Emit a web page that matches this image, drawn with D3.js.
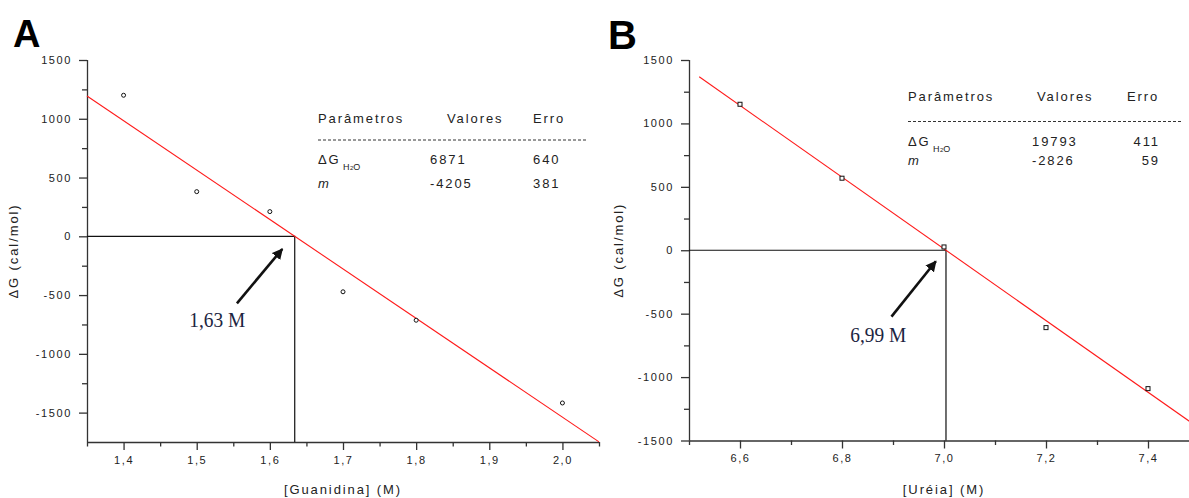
<!DOCTYPE html>
<html>
<head>
<meta charset="utf-8">
<script src="https://cdn.jsdelivr.net/npm/d3@7"></script>
<style>
  html, body { margin: 0; padding: 0; background: #fff; }
  svg { display: block; }
  .sans { font-family: Arial, "Liberation Sans", sans-serif; }
</style>
</head>
<body>
<svg id="chart" width="1189" height="498"></svg>
<script>
// ---- Panel A: guanidine denaturation ----
const guaConc = [1.4, 1.5, 1.6, 1.7, 1.8, 2.0];
const guaDG = [1200, 380, 210, -472, -714, -1418];
const guaFit = [6871, -4205];          // ΔG(H2O), m
const guaFitErr = [640, 381];
const guaFitRange = [1.35, 2.05];
const guaXDomain = [1.35, 2.05];
const guaYDomain = [-1750, 1500];
const guaXTicks = [1.4, 1.5, 1.6, 1.7, 1.8, 1.9, 2.0];
const guaXMinor = [1.35, 1.45, 1.55, 1.65, 1.75, 1.85, 1.95, 2.05];
const guaYTicks = [-1500, -1000, -500, 0, 500, 1000, 1500];
const guaYMinor = [-1250, -750, -250, 250, 750, 1250];
const guaArrow = [[1.555, -570], [1.617, -108]];
const guaMidLabel = ["1,63 M", 1.528, -773];

// ---- Panel B: urea denaturation ----
const ureaConc = [6.6, 6.8, 7.0, 7.2, 7.4];
const ureaDG = [1151, 568, 26, -610, -1091];
const ureaFit = [19793, -2826];
const ureaFitErr = [411, 59];
const ureaFitRange = [6.52, 7.5];
const ureaXDomain = [6.5, 7.5];
const ureaYDomain = [-1500, 1500];
const ureaXTicks = [6.6, 6.8, 7.0, 7.2, 7.4];
const ureaXMinor = [6.5, 6.7, 6.9, 7.1, 7.3, 7.5];
const ureaYTicks = [-1500, -1000, -500, 0, 500, 1000, 1500];
const ureaYMinor = [-1250, -750, -250, 250, 750, 1250];
const ureaArrow = [[6.897, -523], [6.984, -87]];
const ureaMidLabel = ["6,99 M", 6.871, -727];

const tableHeader = ["Parâmetros", "Valores", "Erro"];

const svg = d3.select("#chart");
const axisColor = "#333";

svg.append("defs").append("marker")
  .attr("id", "arrowhead")
  .attr("viewBox", "0 0 10 10")
  .attr("refX", 9).attr("refY", 5)
  .attr("markerWidth", 4.2).attr("markerHeight", 4.2)
  .attr("markerUnits", "strokeWidth")
  .attr("orient", "auto")
  .append("path").attr("d", "M0,0 L10,5 L0,10 Z").attr("fill", "#111");

function drawPanel(cfg) {
  const x = d3.scaleLinear().domain(cfg.xDomain).range(cfg.xRange);
  const y = d3.scaleLinear().domain(cfg.yDomain).range(cfg.yRange);
  const g = svg.append("g").attr("class", "sans");

  // panel letter
  g.append("text").attr("x", cfg.letterPos[0]).attr("y", cfg.letterPos[1])
    .attr("font-size", cfg.letterSize).attr("font-weight", "bold")
    .attr("fill", "#000").text(cfg.letter);

  // y axis
  const yAxis = g.append("g").attr("transform", `translate(${cfg.xRange[0]},0)`)
    .call(d3.axisLeft(y).tickValues(cfg.yTicks).tickSize(8).tickPadding(7)
      .tickFormat(d => String(d)));
  yAxis.append("g").call(d3.axisLeft(y).tickValues(cfg.yMinor).tickSize(5).tickFormat(""))
    .select(".domain").remove();

  // x axis
  const xAxis = g.append("g").attr("transform", `translate(0,${cfg.yRange[0]})`)
    .call(d3.axisBottom(x).tickValues(cfg.xTicks).tickSize(8).tickPadding(6)
      .tickFormat(d => d3.format(".1f")(d).replace(".", ",")));
  xAxis.append("g").call(d3.axisBottom(x).tickValues(cfg.xMinor).tickSize(4.5).tickFormat(""))
    .select(".domain").remove();

  [yAxis, xAxis].forEach(a => {
    a.selectAll(".domain").attr("stroke", axisColor).attr("stroke-width", 1.3)
      .attr("d", function () {
        return a === yAxis
          ? `M0.5,${cfg.yRange[0]}V${cfg.yRange[1]}`
          : `M${cfg.xRange[0]},0.5H${cfg.xRange[1]}`;
      });
    a.selectAll(".tick line").attr("stroke", axisColor).attr("stroke-width", 1.3);
    a.selectAll(".tick text").attr("fill", "#222")
      .attr("font-family", "Arial, 'Liberation Sans', sans-serif")
      .attr("font-size", 11).attr("letter-spacing", 1.6);
  });

  // axis titles
  g.append("text")
    .attr("x", (cfg.xRange[0] + cfg.xRange[1]) / 2).attr("y", cfg.xTitleY)
    .attr("text-anchor", "middle").attr("font-size", 13).attr("letter-spacing", 1.9)
    .attr("fill", "#222").text(cfg.xTitle);
  g.append("text")
    .attr("transform", `translate(${cfg.yTitleX},${(cfg.yRange[0] + cfg.yRange[1]) / 2}) rotate(-90)`)
    .attr("text-anchor", "middle").attr("font-size", 13).attr("letter-spacing", 1.9)
    .attr("fill", "#222").text("ΔG (cal/mol)");

  // zero-crossing guide lines
  const [a0, m] = cfg.fit;
  const xc = -a0 / m;
  g.append("path")
    .attr("d", d3.line()([[x(cfg.xDomain[0]), y(0)], [x(xc), y(0)], [x(xc), y(cfg.yDomain[0])]]))
    .attr("fill", "none").attr("stroke", "#111").attr("stroke-width", 1.2);

  // fitted line
  const fitLine = d3.line().x(d => x(d)).y(d => y(a0 + m * d));
  g.append("path").attr("d", fitLine(cfg.fitRange))
    .attr("fill", "none").attr("stroke", "#ff1a1a").attr("stroke-width", 1.1);

  // data points
  if (cfg.marker === "circle") {
    g.selectAll("circle.pt").data(cfg.xs).join("circle").attr("class", "pt")
      .attr("cx", d => x(d)).attr("cy", (d, i) => y(cfg.ys[i])).attr("r", 2)
      .attr("fill", "#fff").attr("stroke", "#111").attr("stroke-width", 1);
  } else {
    g.selectAll("rect.pt").data(cfg.xs).join("rect").attr("class", "pt")
      .attr("x", d => x(d) - 2).attr("y", (d, i) => y(cfg.ys[i]) - 2)
      .attr("width", 4).attr("height", 4)
      .attr("fill", "#fff").attr("stroke", "#111").attr("stroke-width", 1);
  }

  // arrow and midpoint label
  g.append("line")
    .attr("x1", x(cfg.arrow[0][0])).attr("y1", y(cfg.arrow[0][1]))
    .attr("x2", x(cfg.arrow[1][0])).attr("y2", y(cfg.arrow[1][1]))
    .attr("stroke", "#111").attr("stroke-width", 2.6)
    .attr("marker-end", "url(#arrowhead)");
  g.append("text")
    .attr("x", x(cfg.midLabel[1])).attr("y", y(cfg.midLabel[2]))
    .attr("text-anchor", "middle")
    .attr("font-family", "'Liberation Serif', 'Times New Roman', serif")
    .attr("font-size", 20).attr("textLength", 56).attr("lengthAdjust", "spacingAndGlyphs")
    .attr("fill", "#1c2541").text(cfg.midLabel[0]);

  // parameter table
  const t = cfg.table;
  const tg = g.append("g").attr("fill", "#222").attr("font-size", 13).attr("letter-spacing", 1.9);
  tableHeader.forEach((h, i) => {
    tg.append("text").attr("x", t.headX[i]).attr("y", t.headY).text(h);
  });
  tg.append("line").attr("x1", t.headX[0]).attr("x2", t.ruleEnd)
    .attr("y1", t.ruleY).attr("y2", t.ruleY)
    .attr("stroke", "#333").attr("stroke-width", 1).attr("stroke-dasharray", "3,2");

  // ΔG with H2O subscript
  const dg = tg.append("text").attr("x", t.headX[0]).attr("y", t.rowY[0]);
  dg.append("tspan").text("ΔG");
  const sub = tg.append("text").attr("x", t.headX[0] + 25).attr("y", t.rowY[0] + 6)
    .attr("font-size", 9).attr("letter-spacing", 0);
  sub.append("tspan").text("H");
  sub.append("tspan").attr("font-size", 6).attr("dx", 0.5).text("2");
  sub.append("tspan").text("O");
  tg.append("text").attr("x", t.headX[0]).attr("y", t.rowY[1])
    .attr("font-style", "italic").text("m");

  const values = [a0, m];
  values.forEach((v, i) => {
    tg.append("text").attr("x", t.valX).attr("y", t.rowY[i]).text(String(v));
    tg.append("text").attr("x", t.errX).attr("y", t.rowY[i])
      .attr("text-anchor", t.errAnchor).text(String(cfg.fitErr[i]));
  });
}

drawPanel({
  letter: "A", letterPos: [13, 47], letterSize: 38,
  xs: guaConc, ys: guaDG, fit: guaFit, fitErr: guaFitErr, fitRange: guaFitRange,
  xDomain: guaXDomain, yDomain: guaYDomain,
  xRange: [87, 599], yRange: [442, 60],
  xTicks: guaXTicks, xMinor: guaXMinor, yTicks: guaYTicks, yMinor: guaYMinor,
  xTitle: "[Guanidina] (M)", xTitleY: 494, yTitleX: 18,
  marker: "circle", arrow: guaArrow, midLabel: guaMidLabel,
  table: { headX: [318, 447, 533], headY: 123, ruleY: 140, ruleEnd: 588,
           rowY: [164, 188], valX: 430, errX: 533, errAnchor: "start" }
});

drawPanel({
  letter: "B", letterPos: [608, 49], letterSize: 40,
  xs: ureaConc, ys: ureaDG, fit: ureaFit, fitErr: ureaFitErr, fitRange: ureaFitRange,
  xDomain: ureaXDomain, yDomain: ureaYDomain,
  xRange: [689, 1199], yRange: [440.5, 60],
  xTicks: ureaXTicks, xMinor: ureaXMinor, yTicks: ureaYTicks, yMinor: ureaYMinor,
  xTitle: "[Uréia] (M)", xTitleY: 494, yTitleX: 623,
  marker: "square", arrow: ureaArrow, midLabel: ureaMidLabel,
  table: { headX: [908, 1037, 1127], headY: 101, ruleY: 121.5, ruleEnd: 1182,
           rowY: [146, 165], valX: 1032, errX: 1160, errAnchor: "end" }
});
</script>
</body>
</html>
